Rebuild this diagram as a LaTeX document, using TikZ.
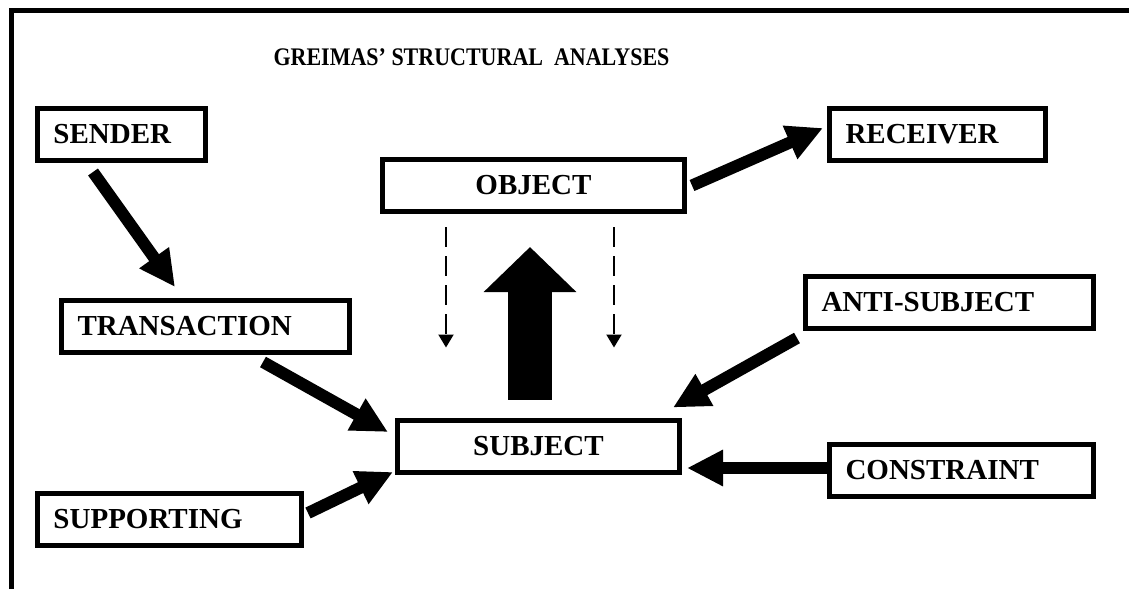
\documentclass[tikz,border=0pt]{standalone}
\usepackage{graphicx}
\usepackage{fontspec}
\setmainfont{Liberation Serif}
\usepackage{tikz}
\usetikzlibrary{arrows.meta, positioning}

\begin{document}
\begin{tikzpicture}[
    x=0.5pt, y=-0.5pt,
    actant/.style={draw, line width=2.5pt, outer sep=0pt, minimum height=26pt, inner xsep=8pt, inner ysep=2pt, align=left, font=\fontsize{14.5}{17}\selectfont\bfseries},
    centred/.style={actant, align=center},
    push/.style={line width=6pt, -{Triangle[length=18pt, width=17pt]}},
    lift/.style={line width=22pt, -{Triangle[length=22.5pt, width=45pt]}},
    hint/.style={line width=1pt, dash pattern=on 10pt off 4.5pt, -{Triangle[length=6.5pt, width=7.5pt]}},
    frame/.style={line width=2.5pt}
]
    \useasboundingbox (0,0) rectangle (1129,589);

    % Frame and title
    \draw[frame] (11,589) |- (1129,10);
    \node[font=\fontsize{11}{13}\selectfont\bfseries] (title) at (471.5,57) {\scalebox{1}[1.15]{GREIMAS’ STRUCTURAL~ ANALYSES}};

    % Left column
    \node[actant, text width=68pt] (sender) at (121.5,134.5) {SENDER};
    \node[actant, text width=128pt] (transaction) at (205.5,326.5) {TRANSACTION};
    \node[actant, text width=116pt] (supporting) at (169.5,519) {SUPPORTING};

    % Centre
    \node[centred, minimum width=151pt] (object) at (533.5,185.5) {OBJECT};
    \node[centred, minimum width=141pt] (subject) at (538.5,446) {SUBJECT};

    % Right column
    \node[actant, text width=92pt] (receiver) at (937.5,134.5) {RECEIVER};
    \node[actant, text width=128pt] (antisubject) at (949.5,302.5) {ANTI-SUBJECT};
    \node[actant, text width=116pt] (constraint) at (961.5,470) {CONSTRAINT};

    % Connections
    \draw[push] ([xshift=-14.25pt, yshift=-5.75pt]sender.south) -- ([xshift=-15.25pt, yshift=6.75pt]transaction.north);
    \draw[push] ([xshift=28.75pt, yshift=-4.75pt]transaction.south) -- ([xshift=-4.75pt, yshift=7pt]subject.west);
    \draw[push] ([xshift=3.25pt, yshift=3pt]supporting.east) -- ([xshift=-2.25pt, yshift=-13pt]subject.west);
    \draw[push] ([xshift=3.75pt]object.east) -- ([xshift=-3.25pt, yshift=3.25pt]receiver.west);
    \draw[push] ([xshift=-4.25pt, yshift=-4.75pt]antisubject.south west) -- ([xshift=-3.25pt, yshift=6.25pt]subject.north east);
    \draw[push] ([yshift=1pt]constraint.west) -- ([xshift=3.75pt, yshift=-11pt]subject.east);

    % Subject and object
    \draw[lift] ([xshift=-4.25pt, yshift=10.25pt]subject.north) -- ([xshift=-1.75pt, yshift=-17.75pt]object.south);
    \draw[hint] ([xshift=-43.75pt, yshift=-7.75pt]object.south) -- ([xshift=-46.25pt, yshift=36.25pt]subject.north);
    \draw[hint] ([xshift=40.25pt, yshift=-7.75pt]object.south) -- ([xshift=37.75pt, yshift=36.25pt]subject.north);

\end{tikzpicture}
\end{document}
